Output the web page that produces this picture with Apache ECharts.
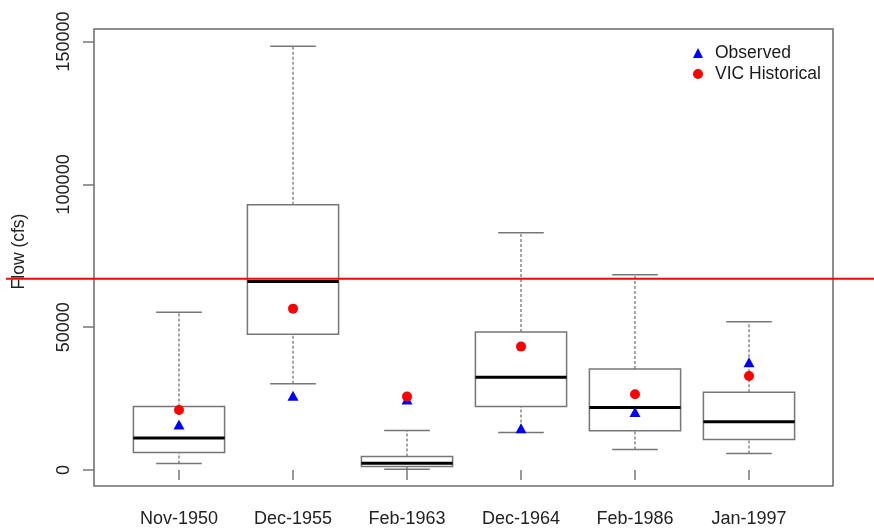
<!DOCTYPE html>
<html>
<head>
<meta charset="utf-8">
<title>Flow by flood event</title>
<script src="https://cdn.jsdelivr.net/npm/echarts@6/dist/echarts.min.js"></script>
<style>
  html, body { margin: 0; padding: 0; background: #ffffff; }
  #chart { width: 874px; height: 532px; }
</style>
</head>
<body>
<div id="chart"></div>
<script>
// Flood events and the five-number summaries of the ensemble flows (cfs)
const events = ['Nov-1950', 'Dec-1955', 'Feb-1963', 'Dec-1964', 'Feb-1986', 'Jan-1997'];
const whiskerLow  = [2300, 30200, 300, 13100, 7200, 5800];
const quartile1   = [6100, 47500, 1250, 22200, 13700, 10700];
const medianFlow  = [11200, 66000, 2400, 32500, 21900, 16900];
const quartile3   = [22200, 92900, 4700, 48300, 35400, 27200];
const whiskerHigh = [55200, 148400, 13800, 83100, 68400, 51900];

// Point values for each event
const observed      = [15900, 26000, 24700, 14600, 20300, 37700];
const vicHistorical = [21000, 56500, 25700, 43200, 26500, 32900];

// Horizontal reference flow
const referenceFlow = 67000;

// Value axis
const yTicks = [0, 50000, 100000, 150000];
const yMin = -5600;
const yMax = 154400;

const FONT = '"Liberation Sans", Arial, Helvetica, sans-serif';
const GREY = '#767676';

const boxData = events.map((e, i) => [i, whiskerLow[i], quartile1[i], medianFlow[i], quartile3[i], whiskerHigh[i]]);

function renderBox(params, api) {
  const i = api.value(0);
  const band = api.size([1, 0])[0];
  const half = band * 0.4;
  const capHalf = half / 2;
  const pt = k => api.coord([i, api.value(k)]);
  const lo = pt(1), q1 = pt(2), md = pt(3), q3 = pt(4), hi = pt(5);
  const cx = lo[0];
  const dashed = { stroke: GREY, lineWidth: 1.3, lineDash: [3, 2] };
  const solid = { stroke: GREY, lineWidth: 1.5 };
  return {
    type: 'group',
    children: [
      { type: 'line', shape: { x1: cx, y1: q3[1], x2: cx, y2: hi[1] }, style: dashed },
      { type: 'line', shape: { x1: cx, y1: lo[1], x2: cx, y2: q1[1] }, style: dashed },
      { type: 'line', shape: { x1: cx - capHalf, y1: hi[1], x2: cx + capHalf, y2: hi[1] }, style: solid },
      { type: 'line', shape: { x1: cx - capHalf, y1: lo[1], x2: cx + capHalf, y2: lo[1] }, style: solid },
      { type: 'rect', shape: { x: cx - half, y: q3[1], width: 2 * half, height: q1[1] - q3[1] },
        style: { fill: 'transparent', stroke: GREY, lineWidth: 1.5 } },
      { type: 'line', shape: { x1: cx - half, y1: md[1], x2: cx + half, y2: md[1] },
        style: { stroke: '#000000', lineWidth: 3 } }
    ]
  };
}

const chart = echarts.init(document.getElementById('chart'), null, { renderer: 'canvas' });

chart.setOption({
  animation: false,
  backgroundColor: '#ffffff',
  textStyle: { fontFamily: FONT },
  grid: [
    { left: 94, top: 29, width: 739, height: 457, show: true,
      borderColor: '#6a6a6a', borderWidth: 1.5, backgroundColor: 'transparent' },
    { left: 122, top: 29, width: 684, height: 457 }
  ],
  xAxis: [
    { gridIndex: 0, type: 'value', show: false, min: 0, max: 1 },
    { gridIndex: 1, type: 'category', data: events,
      axisLine: { show: false },
      axisTick: { show: true, alignWithLabel: true, interval: 0, length: 10,
        lineStyle: { color: GREY, width: 1.5 } },
      axisLabel: { interval: 0, margin: 24, fontSize: 18, color: '#222222', fontFamily: FONT },
      splitLine: { show: false } }
  ],
  yAxis: [
    { gridIndex: 0, type: 'value', min: yMin, max: yMax,
      axisLine: { show: false },
      splitLine: { show: false },
      axisTick: { show: true, length: 11, customValues: yTicks,
        lineStyle: { color: GREY, width: 1.5 } },
      axisLabel: { customValues: yTicks, rotate: 90, margin: 21, fontSize: 18,
        color: '#222222', fontFamily: FONT, formatter: v => String(v) },
      name: 'Flow (cfs)', nameLocation: 'middle', nameGap: 66,
      nameTextStyle: { fontSize: 17.5, color: '#222222', fontFamily: FONT, padding: [0, 0, 0, 12] } },
    { gridIndex: 1, type: 'value', min: yMin, max: yMax, show: false }
  ],
  legend: {
    orient: 'vertical', left: 693, top: 44, padding: 0,
    itemWidth: 10, itemHeight: 10, itemGap: 3,
    textStyle: { fontSize: 17.5, color: '#1a1a1a', fontFamily: FONT, lineHeight: 18, padding: [0, 0, 0, 7] },
    data: [
      { name: 'Observed', icon: 'triangle', itemStyle: { color: '#0000ff', opacity: 1 } },
      { name: 'VIC Historical', icon: 'circle', itemStyle: { color: '#ff0000', opacity: 1 } }
    ]
  },
  series: [
    { type: 'custom', name: 'boxes', xAxisIndex: 1, yAxisIndex: 1, clip: false,
      renderItem: renderBox, data: boxData, z: 2 },
    { type: 'scatter', name: 'Observed', xAxisIndex: 1, yAxisIndex: 1,
      symbol: 'triangle', symbolSize: [11, 10], itemStyle: { color: '#0000ff', opacity: 1 },
      data: observed, z: 3 },
    { type: 'scatter', name: 'VIC Historical', xAxisIndex: 1, yAxisIndex: 1,
      symbol: 'circle', symbolSize: 10, itemStyle: { color: '#ff0000', opacity: 1 },
      data: vicHistorical, z: 4 }
  ]
});

// Reference flow line across the full width
const yRef = chart.convertToPixel({ yAxisIndex: 0 }, referenceFlow);
chart.setOption({
  graphic: [{
    type: 'line', z: 100,
    shape: { x1: 6, y1: yRef, x2: 874, y2: yRef },
    style: { stroke: '#ff0000', lineWidth: 2 }
  }]
});
</script>
</body>
</html>
